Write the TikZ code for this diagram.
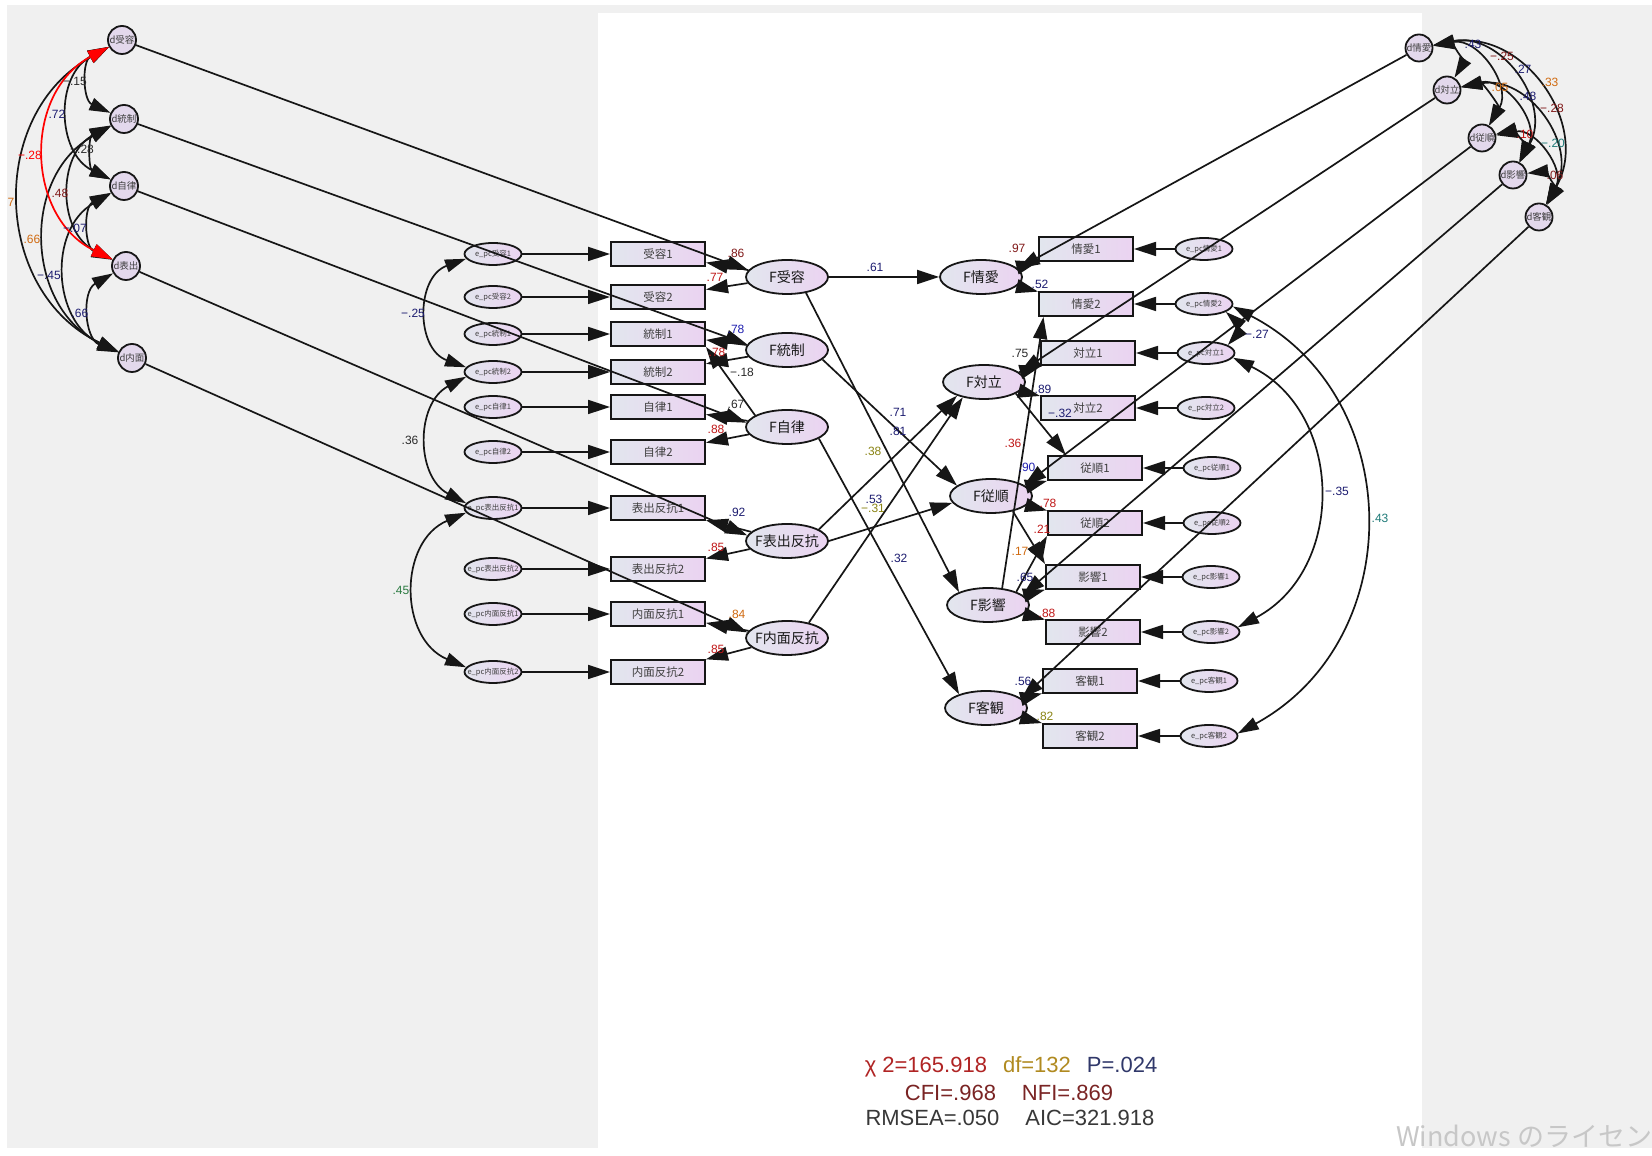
\documentclass[tikz,border=0pt]{standalone}
\usepackage{fontspec}
\setmainfont{Liberation Sans}
\newfontfamily\cjkf{Noto Sans CJK JP}
\usetikzlibrary{shapes.geometric,arrows.meta}
\definecolor{bgg}{HTML}{F0F0F0}
\definecolor{nodeL}{HTML}{E2E6EE}
\definecolor{nodeR}{HTML}{EBD3F1}
\definecolor{circF}{HTML}{E3D8EC}
\definecolor{edgeC}{HTML}{161616}
\definecolor{cNavy}{HTML}{1C1C70}
\definecolor{cBlue}{HTML}{2020B0}
\definecolor{cRed}{HTML}{C01818}
\definecolor{cDRed}{HTML}{801818}
\definecolor{cDark}{HTML}{2A2A2A}
\definecolor{cOrange}{HTML}{D06A10}
\definecolor{cOlive}{HTML}{8A8414}
\definecolor{cGreen}{HTML}{2A7A40}
\definecolor{cTeal}{HTML}{1E7A78}
\definecolor{cBright}{HTML}{FF0000}
\definecolor{sA}{HTML}{B02424}
\definecolor{sB}{HTML}{B08A20}
\definecolor{sC}{HTML}{30386A}
\definecolor{sD}{HTML}{7A2424}
\definecolor{sE}{HTML}{383838}
\begin{document}
\begin{tikzpicture}[x=1pt,y=1pt,
  lat/.style={ellipse, draw=edgeC, line width=1.8pt, minimum width=82pt, minimum height=34pt,
    inner xsep=-6pt, inner ysep=0pt, left color=nodeL, right color=nodeR,
    font=\cjkf\fontsize{14}{14}\selectfont, text=black!90},
  obs/.style={rectangle, draw=edgeC, line width=2pt, minimum width=94pt, minimum height=24pt,
    inner sep=0pt, left color=nodeL, right color=nodeR,
    font=\cjkf\fontsize{11.5}{11.5}\selectfont, text=black!75},
  err/.style={ellipse, draw=edgeC, line width=1.8pt, minimum width=57pt, minimum height=22pt,
    inner xsep=-7pt, inner ysep=0pt, left color=nodeL, right color=nodeR,
    font=\cjkf\fontsize{7.5}{8}\selectfont, text=black!75},
  dst/.style={circle, draw=edgeC, line width=1.8pt, minimum size=28pt, inner sep=0pt,
    fill=circF, font=\cjkf\fontsize{9.5}{10}\selectfont, text=black!75},
  pth/.style={line width=1.7pt, draw=edgeC, -{Triangle[length=22pt,width=14pt]}},
  cv/.style={line width=1.7pt, draw=edgeC, {Triangle[length=21pt,width=13pt]}-{Triangle[length=21pt,width=13pt]}},
  lab/.style={font=\fontsize{12}{12}\selectfont, inner sep=0pt},
  stat/.style={font=\fontsize{22}{22}\selectfont, inner sep=0pt}]

\useasboundingbox (0,0) rectangle (1652,1156);
\clip (0,0) rectangle (1652,1156);
\fill[white] (0,0) rectangle (1652,1156);
\fill[bgg] (7,8) rectangle (1652,1151);
\fill[white] (598,8) rectangle (1422,1143);

% ---------- left disturbance circles
\node[dst] (dA) at (122,1116) {d受容};
\node[dst] (dB) at (124,1037) {d統制};
\node[dst] (dC) at (124,970) {d自律};
\node[dst] (dD) at (126,890) {d表出};
\node[dst] (dE) at (132,798) {d内面};

% ---------- left errors
\node[err] (eL1) at (493,902) {e\_pc受容1};
\node[err] (eL2) at (493,859) {e\_pc受容2};
\node[err] (eL3) at (493,822) {e\_pc統制1};
\node[err] (eL4) at (493,784) {e\_pc統制2};
\node[err] (eL5) at (493,749) {e\_pc自律1};
\node[err] (eL6) at (493,704) {e\_pc自律2};
\node[err] (eL7) at (493,648) {e\_pc表出反抗1};
\node[err] (eL8) at (493,587) {e\_pc表出反抗2};
\node[err] (eL9) at (493,542) {e\_pc内面反抗1};
\node[err] (eL10) at (493,484) {e\_pc内面反抗2};

% ---------- left boxes
\node[obs] (bL1) at (658,902) {受容1};
\node[obs] (bL2) at (658,859) {受容2};
\node[obs] (bL3) at (658,822) {統制1};
\node[obs] (bL4) at (658,784) {統制2};
\node[obs] (bL5) at (658,749) {自律1};
\node[obs] (bL6) at (658,704) {自律2};
\node[obs] (bL7) at (658,648) {表出反抗1};
\node[obs] (bL8) at (658,587) {表出反抗2};
\node[obs] (bL9) at (658,542) {内面反抗1};
\node[obs] (bL10) at (658,484) {内面反抗2};

% ---------- left latent
\node[lat] (FL1) at (787,879) {F受容};
\node[lat] (FL2) at (787,806) {F統制};
\node[lat] (FL3) at (787,729) {F自律};
\node[lat] (FL4) at (787,615) {F表出反抗};
\node[lat] (FL5) at (787,518) {F内面反抗};

% ---------- right latent
\node[lat] (FR1) at (981,879) {F情愛};
\node[lat] (FR2) at (984,774) {F対立};
\node[lat] (FR3) at (991,660) {F従順};
\node[lat] (FR4) at (988,551) {F影響};
\node[lat] (FR5) at (986,448) {F客観};

% ---------- right boxes
\node[obs] (bR1) at (1086,907) {情愛1};
\node[obs] (bR2) at (1086,852) {情愛2};
\node[obs] (bR3) at (1088,803) {対立1};
\node[obs] (bR4) at (1088,748) {対立2};
\node[obs] (bR5) at (1095,688) {従順1};
\node[obs] (bR6) at (1095,633) {従順2};
\node[obs] (bR7) at (1093,579) {影響1};
\node[obs] (bR8) at (1093,524) {影響2};
\node[obs] (bR9) at (1090,475) {客観1};
\node[obs] (bR10) at (1090,420) {客観2};

% ---------- right errors
\node[err] (eR1) at (1204,907) {e\_pc情愛1};
\node[err] (eR2) at (1204,852) {e\_pc情愛2};
\node[err] (eR3) at (1206,803) {e\_pc対立1};
\node[err] (eR4) at (1206,748) {e\_pc対立2};
\node[err] (eR5) at (1212,688) {e\_pc従順1};
\node[err] (eR6) at (1212,633) {e\_pc従順2};
\node[err] (eR7) at (1211,579) {e\_pc影響1};
\node[err] (eR8) at (1211,524) {e\_pc影響2};
\node[err] (eR9) at (1209,475) {e\_pc客観1};
\node[err] (eR10) at (1209,420) {e\_pc客観2};

% ---------- right disturbance circles
\node[dst, minimum size=27pt] (dF) at (1419,1108) {d情愛};
\node[dst, minimum size=27pt] (dG) at (1447,1066) {d対立};
\node[dst, minimum size=27pt] (dH) at (1482,1018) {d従順};
\node[dst, minimum size=27pt] (dI) at (1513,981) {d影響};
\node[dst, minimum size=27pt] (dJ) at (1539,939) {d客観};

% ---------- error -> box
\foreach \i in {1,...,10} {
  \draw[pth] (eL\i) -- (bL\i);
  \draw[pth] (eR\i) -- (bR\i);
}

% ---------- left loadings
\draw[pth] (FL1) -- (bL1);
\draw[pth] (FL1) -- (bL2);
\draw[pth] (FL2) -- (bL3);
\draw[pth] (FL2) -- (bL4);
\draw[pth] (FL3.160) -- (bL3.south east);
\draw[pth] (FL3) -- (bL5);
\draw[pth] (FL3) -- (bL6);
\draw[pth] (FL4) -- (bL7);
\draw[pth] (FL4) -- (bL8);
\draw[pth] (FL5) -- (bL9);
\draw[pth] (FL5) -- (bL10);

% ---------- disturbances -> left latent
\draw[pth] (dA) -- (FL1.170);
\draw[pth] (dB) -- (FL2.172);
\draw[pth] (dC) -- (FL3.174);
\draw[pth] (dD) -- (FL4.172);
\draw[pth] (dE) -- (FL5.172);

% ---------- structural paths
\draw[pth] (FL1) -- (FR1.180);
\draw[pth] (FL1.-40) -- (FR4.156);
\draw[pth] (FL2.-15) -- (FR3.163);
\draw[pth] (FL3.-20) -- (FR5.153);
\draw[pth] (FL4.20) -- (FR2.207);
\draw[pth] (FL4.0) -- (FR3.190);
\draw[pth] (FL5.35) -- (FR2.216);

% ---------- disturbances -> right latent
\draw[pth] (dF) -- (FR1.13);
\draw[pth] (dG) -- (FR2.15);
\draw[pth] (dH) -- (FR3.18);
\draw[pth] (dI) -- (FR4.16);
\draw[pth] (dJ) -- (FR5.15);

% ---------- right loadings
\draw[pth] (FR1) -- (bR1);
\draw[pth] (FR1) -- (bR2);
\draw[pth] (FR2) -- (bR3);
\draw[pth] (FR2) -- (bR4);
\draw[pth] (FR2.-20) -- (bR5.156);
\draw[pth] (FR3) -- (bR5);
\draw[pth] (FR3) -- (bR6);
\draw[pth] (FR3.-35) -- (bR7.north west);
\draw[pth] (FR4) -- (bR7);
\draw[pth] (FR4) -- (bR8);
\draw[pth] (FR4.50) -- (bR2.197);
\draw[pth] (FR4.25) -- (bR6.south west);
\draw[pth] (FR5) -- (bR9);
\draw[pth] (FR5) -- (bR10);

% ---------- left disturbance covariances
\draw[cv] (dA) to[bend right=64,looseness=1.18] (dB);
\draw[cv] (dB) to[bend right=64,looseness=1.18] (dC);
\draw[cv] (dC) to[bend right=64,looseness=1.18] (dD);
\draw[cv] (dD) to[bend right=64,looseness=1.18] (dE);
\draw[cv] (dA) to[bend right=63,looseness=1.17] (dC);
\draw[cv] (dB) to[bend right=63,looseness=1.17] (dD);
\draw[cv] (dC) to[bend right=63,looseness=1.17] (dE);
\draw[cv] (dB) to[bend right=63,looseness=1.17] (dE);
\draw[cv] (dA) to[bend right=63,looseness=1.17] (dE);
\draw[cv, draw=cBright] (dA) to[bend right=63,looseness=1.17] (dD);

% ---------- left error covariances
\draw[cv] (eL1.190) to[bend right=70,looseness=1.27] (eL4.170);
\draw[cv] (eL4.190) to[bend right=62,looseness=1.16] (eL7.170);
\draw[cv] (eL7.190) to[bend right=67,looseness=1.22] (eL10.170);

% ---------- right error covariances
\draw[cv] (eR2.-20) to[bend left=45] (eR3.20);
\draw[cv] (eR3.-10) to[bend left=63,looseness=1.17] (eR8.10);
\draw[cv] (eR2.-5) to[bend left=62,looseness=1.17] (eR10.5);

% ---------- right disturbance covariances
\draw[cv] (dF) to[bend left=65,looseness=1.2] (dG);
\draw[cv] (dG) to[bend left=65,looseness=1.2] (dH);
\draw[cv] (dH) to[bend left=65,looseness=1.2] (dI);
\draw[cv] (dI) to[bend left=65,looseness=1.2] (dJ);
\draw[cv] (dF) to[bend left=65,looseness=1.2] (dH);
\draw[cv] (dG) to[bend left=65,looseness=1.2] (dI);
\draw[cv] (dH) to[bend left=65,looseness=1.2] (dJ);
\draw[cv] (dF) to[bend left=65,looseness=1.2] (dI);
\draw[cv] (dG) to[bend left=65,looseness=1.2] (dJ);
\draw[cv] (dF) to[bend left=65,looseness=1.2] (dJ);

% ---------- labels: left disturbance covariances
\node[lab, text=cDark] (la1) at (75,1075) {−.15};
\node[lab, text=cNavy] (la2) at (57,1042) {.72};
\node[lab, text=cBright] (la3) at (30,1001) {−.28};
\node[lab, text=cOrange] (la4) at (11,954) {7};
\node[lab, text=cDark] (la5) at (82,1007) {−.28};
\node[lab, text=cDRed] (la6) at (60,963) {.48};
\node[lab, text=cNavy] (la7) at (75,928) {−.07};
\node[lab, text=cOrange] (la8) at (32,917) {.66};
\node[lab, text=cNavy] (la9) at (49,881) {−.45};
\node[lab, text=cNavy] (la10) at (80,843) {.66};

% left error covariances
\node[lab, text=cNavy] (lb1) at (413,843) {−.25};
\node[lab, text=cDark] (lb2) at (410,716) {.36};
\node[lab, text=cGreen] (lb3) at (401,566) {.45};

% left loadings
\node[lab, text=cDRed] (lc1) at (736,903) {.86};
\node[lab, text=cRed] (lc2) at (715,879) {.77};
\node[lab, text=cBlue] (lc3) at (736,827) {.78};
\node[lab, text=cRed] (lc4) at (717,804) {.78};
\node[lab, text=cDark] (lc5) at (742,784) {−.18};
\node[lab, text=cDark] (lc6) at (736,752) {.67};
\node[lab, text=cRed] (lc7) at (716,727) {.88};
\node[lab, text=cNavy] (lc8) at (737,644) {.92};
\node[lab, text=cRed] (lc9) at (716,609) {.85};
\node[lab, text=cOrange] (lc10) at (737,542) {.84};
\node[lab, text=cRed] (lc11) at (716,507) {.85};

% structural
\node[lab, text=cNavy] (ld1) at (875,889) {.61};
\node[lab, text=cNavy] (ld2) at (898,744) {.71};
\node[lab, text=cNavy] (ld3) at (898,725) {.81};
\node[lab, text=cOlive] (ld4) at (873,705) {.38};
\node[lab, text=cNavy] (ld5) at (874,657) {.53};
\node[lab, text=cOlive] (ld6) at (873,648) {−.31};
\node[lab, text=cNavy] (ld7) at (899,598) {.32};

% right loadings
\node[lab, text=cDRed] (le1) at (1017,908) {.97};
\node[lab, text=cNavy] (le2) at (1040,872) {.52};
\node[lab, text=cDark] (le3) at (1020,803) {.75};
\node[lab, text=cNavy] (le4) at (1043,767) {.89};
\node[lab, text=cNavy] (le5) at (1060,743) {−.32};
\node[lab, text=cRed] (le6) at (1013,713) {.36};
\node[lab, text=cBlue] (le7) at (1027,689) {.90};
\node[lab, text=cRed] (le8) at (1048,653) {.78};
\node[lab, text=cRed] (le9) at (1042,627) {.21};
\node[lab, text=cOrange] (le10) at (1020,605) {.17};
\node[lab, text=cNavy] (le11) at (1025,579) {.65};
\node[lab, text=cRed] (le12) at (1047,543) {.88};
\node[lab, text=cNavy] (le13) at (1023,475) {.56};
\node[lab, text=cOlive] (le14) at (1045,440) {.82};

% right error covariances
\node[lab, text=cNavy] (lf1) at (1257,822) {−.27};
\node[lab, text=cNavy] (lf2) at (1337,665) {−.35};
\node[lab, text=cTeal] (lf3) at (1380,638) {.43};

% right disturbance covariances
\node[lab, text=cNavy] (lg1) at (1473,1112) {.43};
\node[lab, text=cDRed] (lg2) at (1502,1100) {−.25};
\node[lab, text=cNavy] (lg3) at (1523,1087) {.27};
\node[lab, text=cOrange] (lg4) at (1550,1074) {.33};
\node[lab, text=cOrange] (lg5) at (1500,1069) {.05};
\node[lab, text=cNavy] (lg6) at (1528,1060) {.48};
\node[lab, text=cDRed] (lg7) at (1552,1048) {−.28};
\node[lab, text=cRed] (lg8) at (1525,1022) {.10};
\node[lab, text=cTeal] (lg9) at (1553,1013) {−.20};
\node[lab, text=cDRed] (lg10) at (1555,981) {.06};

% ---------- fit statistics
\node[stat] (fit1) at (1011,89) {\textcolor{sA}{χ 2=165.918}\hspace{16pt}\textcolor{sB}{df=132}\hspace{16pt}\textcolor{sC}{P=.024}};
\node[stat, text=sD] (fit2) at (1009,63) {CFI=.968\hspace{26pt}NFI=.869};
\node[stat, text=sE] (fit3) at (1010,38) {RMSEA=.050\hspace{26pt}AIC=321.918};

% ---------- watermark
\node[anchor=west, inner sep=0pt, font=\cjkf\fontsize{27}{27}\selectfont, text=black!22] (wm) at (1396,20) {Windows のライセン};
\end{tikzpicture}
\end{document}
